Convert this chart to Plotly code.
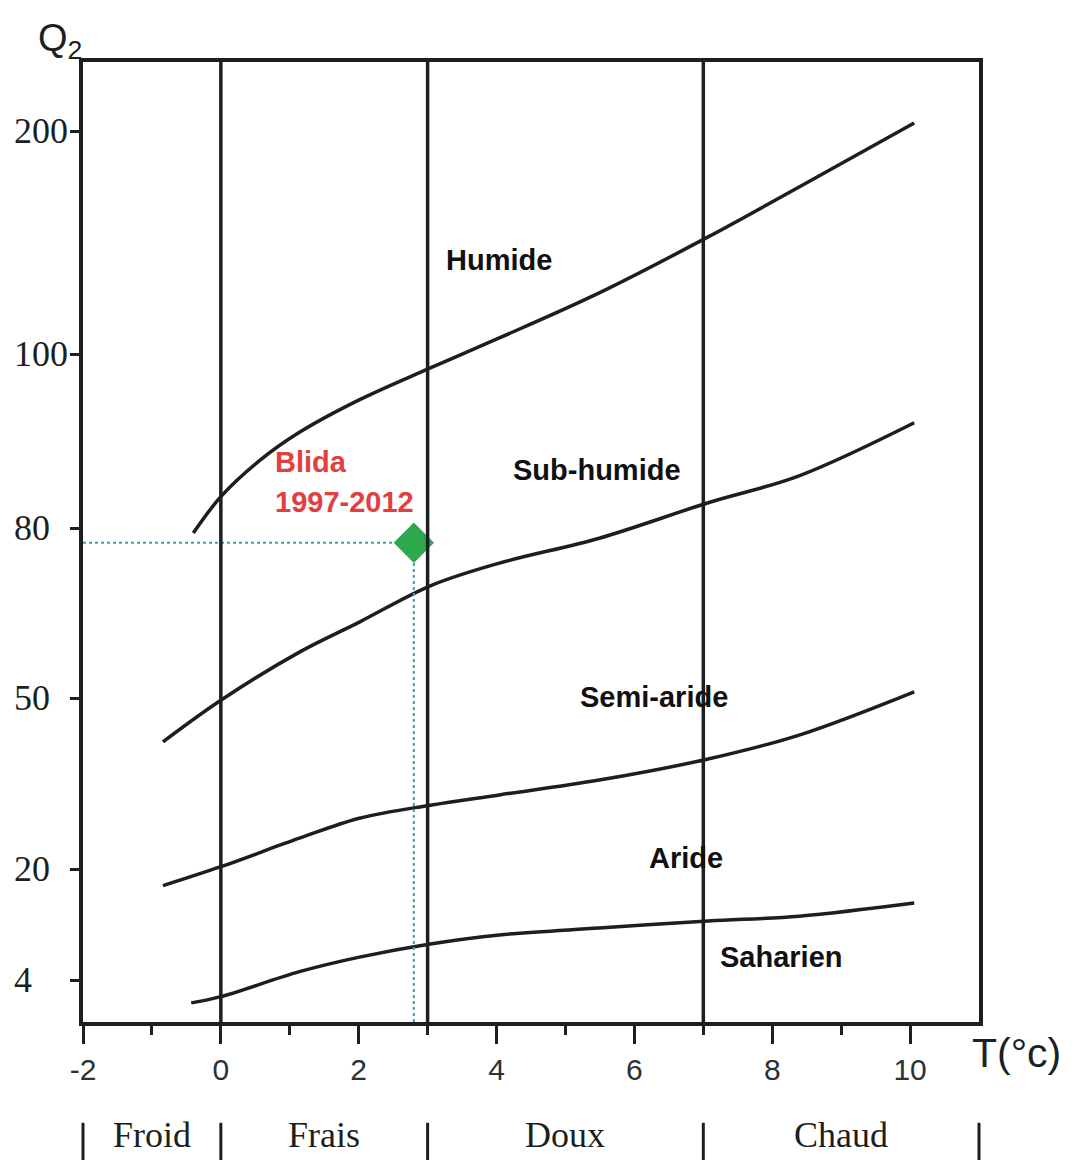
import numpy as np
import plotly.graph_objects as go

# ---------------- data ----------------
# Emberger climagram: x = T (m, °C), y = Q2 (pluviothermic quotient)
T_LIMIT_HUMIDE = [-0.4, 0.0, 0.57, 1.14, 2.0, 3.04, 4.04, 5.49, 7.07, 8.39, 10.06]
Q_LIMIT_HUMIDE = [79.1, 83.6, 87.8, 91.0, 94.7, 98.4, 107.2, 127.4, 152.5, 174.9, 203.6]

T_LIMIT_SUBHUMIDE = [-0.84, 0.0, 1.14, 2.01, 3.04, 4.04, 5.49, 7.07, 8.39, 10.06]
Q_LIMIT_SUBHUMIDE = [42.3, 49.6, 58.1, 63.4, 69.8, 73.8, 78.2, 82.9, 86.0, 92.1]

T_LIMIT_SEMIARIDE = [-0.84, 0.0, 1.14, 2.01, 3.04, 4.04, 5.49, 7.07, 8.39, 10.06]
Q_LIMIT_SEMIARIDE = [17.6, 20.4, 25.4, 28.9, 31.2, 33.0, 35.6, 39.3, 43.5, 51.1]

T_LIMIT_ARIDE = [-0.43, 0.0, 1.14, 2.01, 3.04, 4.04, 5.49, 7.07, 8.39, 10.06]
Q_LIMIT_ARIDE = [0.7, 1.6, 5.2, 7.3, 9.2, 10.5, 11.5, 12.5, 13.2, 15.1]

STATION_NAME = "Blida"
STATION_PERIOD = "1997-2012"
STATION_T = 2.8
STATION_Q2 = 77.4

ZONE_LABELS = ["Humide", "Sub-humide", "Semi-aride", "Aride", "Saharien"]

WINTER_BOUNDS = [-2, 0, 3, 7, 11]
WINTER_LABELS = ["Froid", "Frais", "Doux", "Chaud"]

X_TICKS = [-2, 0, 2, 4, 6, 8, 10]
X_MINOR = [-1, 1, 3, 5, 7, 9]
Q_TICKS = [4, 20, 50, 80, 100, 200]

# ---------------- scale of the Q2 axis (non uniform in the original) ----------------
Q_TICK_POS = [42, 153, 324, 494, 668, 891]
Y_RANGE = [0, 960]
X_RANGE = [-2, 11]


def q_to_pos(q):
    q = np.asarray(q, dtype=float)
    pos = np.interp(q, Q_TICKS, Q_TICK_POS)
    lo = q < Q_TICKS[0]
    hi = q > Q_TICKS[-1]
    s_lo = (Q_TICK_POS[1] - Q_TICK_POS[0]) / (Q_TICKS[1] - Q_TICKS[0])
    s_hi = (Q_TICK_POS[-1] - Q_TICK_POS[-2]) / (Q_TICKS[-1] - Q_TICKS[-2])
    pos = np.where(lo, Q_TICK_POS[0] + (q - Q_TICKS[0]) * s_lo, pos)
    pos = np.where(hi, Q_TICK_POS[-1] + (q - Q_TICKS[-1]) * s_hi, pos)
    return pos


def x_to_paper(t):
    return (t - X_RANGE[0]) / (X_RANGE[1] - X_RANGE[0])


INK = "#1b1f22"
fig = go.Figure()

curves = [
    (T_LIMIT_HUMIDE, Q_LIMIT_HUMIDE),
    (T_LIMIT_SUBHUMIDE, Q_LIMIT_SUBHUMIDE),
    (T_LIMIT_SEMIARIDE, Q_LIMIT_SEMIARIDE),
    (T_LIMIT_ARIDE, Q_LIMIT_ARIDE),
]
for t, q in curves:
    fig.add_trace(go.Scatter(
        x=t, y=q_to_pos(q), mode="lines",
        line=dict(color=INK, width=3.5, shape="spline", smoothing=1.0),
        showlegend=False, hoverinfo="skip"))

# station guide lines
DOT = "#38a3b3"
fig.add_trace(go.Scatter(
    x=[X_RANGE[0], STATION_T], y=q_to_pos([STATION_Q2, STATION_Q2]),
    mode="lines", line=dict(color=DOT, width=2, dash="dot"),
    showlegend=False, hoverinfo="skip"))
fig.add_trace(go.Scatter(
    x=[STATION_T, STATION_T], y=[Y_RANGE[0], float(q_to_pos(STATION_Q2))],
    mode="lines", line=dict(color=DOT, width=2, dash="dot"),
    showlegend=False, hoverinfo="skip"))
fig.add_trace(go.Scatter(
    x=[STATION_T], y=q_to_pos([STATION_Q2]), mode="markers",
    marker=dict(symbol="diamond", size=31, color="#2ea84c",
                line=dict(width=0)),
    showlegend=False, hoverinfo="skip"))

shapes = []
# vertical winter-type limits inside the plot
for b in WINTER_BOUNDS[1:-1]:
    shapes.append(dict(type="line", xref="x", yref="paper", x0=b, x1=b, y0=0, y1=1,
                       line=dict(color=INK, width=3.5), layer="above"))
# separators of the winter classes under the axis
for b in WINTER_BOUNDS:
    xp = x_to_paper(b)
    shapes.append(dict(type="line", xref="paper", yref="paper", x0=xp, x1=xp,
                       y0=-0.105, y1=-0.15, line=dict(color=INK, width=3)))

annotations = []
SERIF = "Liberation Serif, Times New Roman, serif"
SANS = "Liberation Sans, Arial, sans-serif"

# Q2 tick labels (left aligned as in the original)
for q in Q_TICKS:
    annotations.append(dict(text=str(q), xref="paper", yref="y", x=-0.079,
                            y=float(q_to_pos(q)), xanchor="left", yanchor="middle",
                            showarrow=False, font=dict(family=SERIF, size=36, color=INK)))

# zone names
zone_pos = [(4.03, 762), (5.46, 552), (6.29, 325), (6.75, 164), (8.13, 65)]
for name, (xx, yy) in zip(ZONE_LABELS, zone_pos):
    annotations.append(dict(text=name, x=xx, y=yy, xref="x", yref="y", showarrow=False,
                            xanchor="center", yanchor="middle",
                            font=dict(family=SANS, size=29, color="#111111", weight="bold")))

# station label
RED = "#e2403f"
annotations.append(dict(text=STATION_NAME, x=0.76, y=560, xref="x", yref="y",
                        xanchor="left", yanchor="middle", showarrow=False,
                        font=dict(family=SANS, size=29, color=RED, weight="bold")))
annotations.append(dict(text=STATION_PERIOD, x=0.76, y=520, xref="x", yref="y",
                        xanchor="left", yanchor="middle", showarrow=False,
                        font=dict(family=SANS, size=29, color=RED, weight="bold")))

# winter class names
for i, lab in enumerate(WINTER_LABELS):
    mid = 0.5 * (WINTER_BOUNDS[i] + WINTER_BOUNDS[i + 1])
    annotations.append(dict(text=lab, x=mid, y=-0.118, xref="x", yref="paper",
                            xanchor="center", yanchor="middle", showarrow=False,
                            font=dict(family=SERIF, size=36, color=INK)))

# axis titles
annotations.append(dict(text="Q<sub>2</sub>", xref="paper", yref="paper", x=-0.053, y=0.995,
                        xanchor="left", yanchor="bottom", showarrow=False,
                        font=dict(family=SANS, size=38, color=INK)))
annotations.append(dict(text="T(°c)", xref="paper", yref="paper", x=0.99, y=-0.006,
                        xanchor="left", yanchor="top", showarrow=False,
                        font=dict(family=SANS, size=41, color=INK)))

# The page places the figure 8 px from the top-left corner: size and margins
# are chosen so that the plot area lands at the reference position.
fig.update_layout(
    width=1069, height=1152,
    margin=dict(l=75, r=98, t=54, b=138),
    paper_bgcolor="white", plot_bgcolor="white",
    showlegend=False,
    shapes=shapes, annotations=annotations,
    xaxis=dict(range=X_RANGE, showgrid=False, zeroline=False,
               showline=True, linewidth=4, linecolor=INK, mirror=True,
               ticks="outside", ticklen=18, tickwidth=3, tickcolor=INK,
               tickmode="array", tickvals=X_TICKS, ticktext=[str(v) for v in X_TICKS],
               tickfont=dict(family=SANS, size=30, color="#2a3236"),
               ticklabelstandoff=0,
               minor=dict(ticks="outside", ticklen=9, tickwidth=3, tickcolor=INK,
                          tickmode="array", tickvals=X_MINOR, showgrid=False)),
    yaxis=dict(range=Y_RANGE, showgrid=False, zeroline=False,
               showline=True, linewidth=4, linecolor=INK, mirror=True,
               ticks="outside", ticklen=9, tickwidth=3, tickcolor=INK,
               tickmode="array", tickvals=list(q_to_pos(Q_TICKS)),
               showticklabels=False),
)

fig.write_html("out.html")
